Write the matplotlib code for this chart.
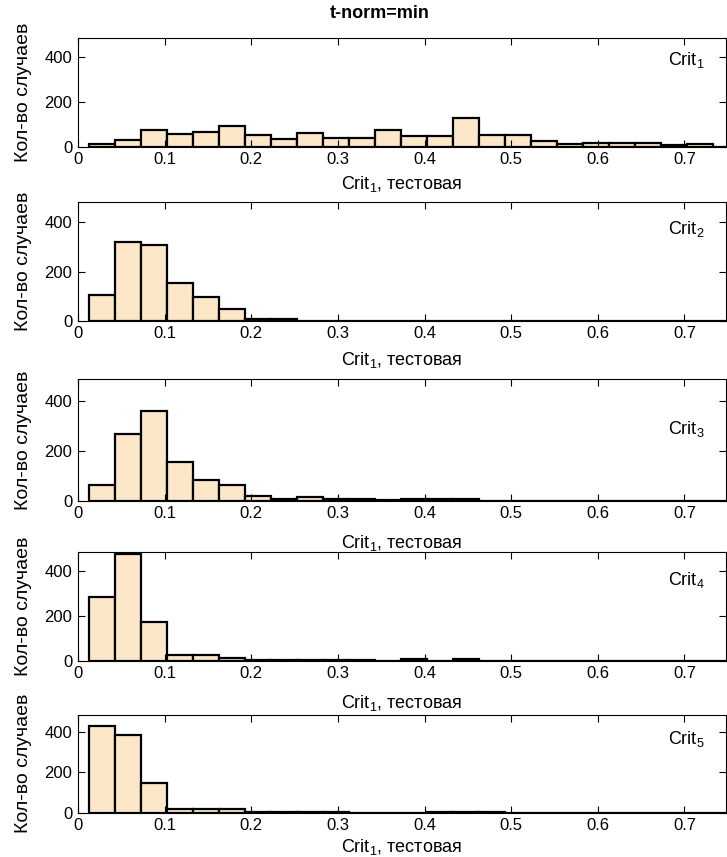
import numpy as np
import matplotlib.pyplot as plt

plt.rcParams['font.family'] = ['Liberation Sans', 'DejaVu Sans']
plt.rcParams['mathtext.fontset'] = 'custom'
plt.rcParams['mathtext.rm'] = 'Liberation Sans'
plt.rcParams['mathtext.default'] = 'regular'

# histogram bins (same for every panel)
bin_start = 0.013
bin_width = 0.030

# counts per bin
crit1 = [10, 32, 76, 56, 64, 94, 50, 35, 62, 38, 38, 73, 47, 47, 126, 54, 54, 25, 10, 17, 15, 17, 7, 12, 0]
crit2 = [103, 319, 307, 153, 95, 47, 8, 8, 0, 0, 0, 0, 0, 0, 0, 0, 0, 0, 0, 0, 0, 0, 0, 0, 0]
crit3 = [63, 267, 357, 153, 81, 63, 17, 5, 13, 7, 7, 1, 8, 8, 8, 0, 0, 0, 0, 0, 0, 0, 0, 0, 0]
crit4 = [284, 472, 173, 25, 25, 13, 5, 5, 5, 5, 5, 0, 9, 0, 9, 0, 0, 0, 0, 0, 0, 0, 0, 0, 0]
crit5 = [428, 385, 147, 17, 17, 17, 5, 5, 5, 5, 0, 0, 0, 5, 5, 5, 0, 0, 0, 0, 0, 0, 0, 0, 0]
all_counts = [crit1, crit2, crit3, crit4, crit5]
panel_names = ['Crit$_1$', 'Crit$_2$', 'Crit$_3$', 'Crit$_4$', 'Crit$_5$']

title_text = 't-norm=min'
xlabel_text = 'Crit$_1$, тестовая'
ylabel_text = 'Кол-во случаев'
x_ticks = [0, 0.1, 0.2, 0.3, 0.4, 0.5, 0.6, 0.7]
x_tick_labels = ['0', '0.1', '0.2', '0.3', '0.4', '0.5', '0.6', '0.7']
y_ticks = [0, 200, 400]
y_tick_labels = ['0', '200', '400']

# layout, in pixels of the 727x857 picture
W, H = 727, 857
ax_left, ax_right = 78, 726
ax_rows = [(37.7, 146.7), (201.5, 320.7), (379.3, 500.7), (551.5, 660.7), (714.5, 812.7)]
name_y = [0.75, 0.726, 0.55, 0.69, 0.70]
xlabel_pad = [5, 6.5, 8.5, 8.5, 2.5]

fig = plt.figure(figsize=(W / 100, H / 100), dpi=100)

for i in range(5):
    top, bot = ax_rows[i]
    ax = fig.add_axes([ax_left / W, 1 - bot / H, (ax_right - ax_left) / W, (bot - top) / H])
    c = all_counts[i]
    lefts = bin_start + bin_width * np.arange(len(c))
    ax.bar(lefts, c, width=bin_width, align='edge', color='#fce8c8',
           edgecolor='black', linewidth=1.6)
    ax.set_xlim(0, 0.748)
    ax.set_ylim(0, 485)
    ax.set_xticks(x_ticks)
    ax.set_xticklabels(x_tick_labels)
    ax.set_yticks(y_ticks)
    ax.set_yticklabels(y_tick_labels)
    ax.tick_params(direction='in', top=True, right=True, length=5, width=0.8,
                   labelsize=12, pad=4)
    for s in ax.spines.values():
        s.set_linewidth(0.8)
    ax.set_xlabel(xlabel_text, fontsize=13, labelpad=xlabel_pad[i])
    ax.set_ylabel(ylabel_text, fontsize=14, labelpad=9)
    ax.text(0.91, name_y[i], panel_names[i], transform=ax.transAxes,
            fontsize=13, va='baseline', ha='left')

fig.text(380 / W, 1 - 13 / H, title_text, ha='center', va='center',
         fontsize=13, fontweight='bold')

fig.savefig('out.png', dpi=100)
